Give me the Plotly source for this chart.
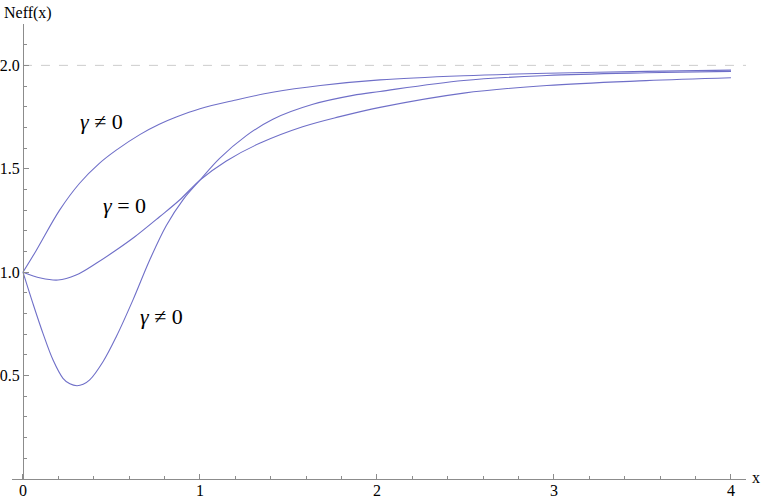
import plotly.graph_objects as go

# values
x_upper = [0, 0.075, 0.207, 0.32, 0.43, 0.527, 0.66, 0.77, 0.866, 1.0, 1.19, 1.41, 1.68, 2.017, 2.49, 2.96, 3.52, 4.0]
y_upper = [1.0, 1.105, 1.30, 1.43, 1.525, 1.59, 1.665, 1.715, 1.75, 1.79, 1.83, 1.87, 1.903, 1.93, 1.95, 1.962, 1.971, 1.977]

x_zero = [0, 0.1, 0.198, 0.30, 0.414, 0.527, 0.63, 0.772, 0.885, 1.0, 1.149, 1.337, 1.58, 1.79, 2.017, 2.49, 2.96, 3.52, 4.0]
y_zero = [1.0, 0.972, 0.962, 0.986, 1.043, 1.107, 1.17, 1.268, 1.349, 1.445, 1.538, 1.623, 1.703, 1.752, 1.797, 1.866, 1.903, 1.926, 1.94]

x_lower = [0, 0.056, 0.113, 0.17, 0.226, 0.265, 0.305, 0.34, 0.377, 0.452, 0.527, 0.621, 0.716, 0.81, 0.904, 1.0,
           1.111, 1.262, 1.412, 1.638, 1.864, 2.017, 2.49, 2.96, 3.52, 4.0]
y_lower = [1.0, 0.849, 0.704, 0.575, 0.487, 0.460, 0.451, 0.458, 0.479, 0.567, 0.688, 0.865, 1.059, 1.226, 1.35, 1.445,
           1.55, 1.66, 1.74, 1.812, 1.855, 1.874, 1.927, 1.951, 1.964, 1.971]

labels = ["γ ≠ 0", "γ = 0", "γ ≠ 0"]
label_x = [0.446, 0.571, 0.785]
label_y = [1.73, 1.324, 0.787]

asymptote = 2.0
x_ticks = [0, 1, 2, 3, 4]
y_ticks = [0.5, 1.0, 1.5, 2.0]

xmin, xmax = -0.062, 4.085
ymin, ymax = 0, 2.2

line_col = "#6f6fc8"
axis_col = "#8c8c8c"
serif = "Liberation Serif"
label_font = "Times New Roman, Liberation Serif, DejaVu Serif, serif"

fig = go.Figure()
for xs, ys in [(x_upper, y_upper), (x_zero, y_zero), (x_lower, y_lower)]:
    fig.add_trace(go.Scatter(x=xs, y=ys, mode="lines",
                             line=dict(color=line_col, width=1.1, shape="spline", smoothing=1.0),
                             showlegend=False, hoverinfo="skip"))

fig.add_shape(type="line", x0=0, x1=xmax, y0=asymptote, y1=asymptote, xref="x", yref="y",
              line=dict(color="#cccccc", width=1, dash="dash"), layer="below")

for t, lx, ly in zip(labels, label_x, label_y):
    fig.add_annotation(x=lx, y=ly, text=t.replace("γ", "<i>γ</i>"), showarrow=False,
                       font=dict(family=label_font, size=22, color="black"))

# axis titles
fig.add_annotation(x=0, y=1, xref="paper", yref="paper", text="Neff(x)", showarrow=False,
                   xanchor="left", yanchor="bottom", xshift=-10, yshift=0,
                   font=dict(family=serif, size=16, color="black"))
fig.add_annotation(x=1, y=0, xref="paper", yref="paper", text="x", showarrow=False,
                   xanchor="left", yanchor="middle", xshift=4, yshift=2,
                   font=dict(family=serif, size=16, color="black"))

fig.update_layout(
    width=763, height=500,
    margin=dict(l=12, r=17, t=24, b=21, autoexpand=False),
    paper_bgcolor="white", plot_bgcolor="white",
    xaxis=dict(range=[xmin, xmax], showgrid=False, zeroline=False, showline=True, linecolor=axis_col,
               linewidth=1, ticks="inside", ticklen=5, tickcolor=axis_col, tickvals=x_ticks,
               ticktext=[str(v) for v in x_ticks], automargin=False, ticklabelstandoff=-3,
               minor=dict(dtick=0.2, tick0=0, ticks="inside", ticklen=3, tickcolor=axis_col),
               tickfont=dict(family=serif, size=16, color="black")),
    yaxis=dict(range=[ymin, ymax], showgrid=False, zeroline=False, showline=True, linecolor=axis_col,
               linewidth=1, anchor="free", position=(0 - xmin) / (xmax - xmin), automargin=False,
               ticks="inside", ticklen=5, tickcolor=axis_col, tickvals=y_ticks,
               ticktext=["%.1f" % v for v in y_ticks],
               minor=dict(dtick=0.1, tick0=0, ticks="inside", ticklen=3, tickcolor=axis_col),
               tickfont=dict(family=serif, size=16, color="black")),
)

# drop the page's default 8px body margin so the figure sits in the corner
fig.write_html("out.html", config={"displayModeBar": False},
               post_script="document.body.style.margin='0px';")
